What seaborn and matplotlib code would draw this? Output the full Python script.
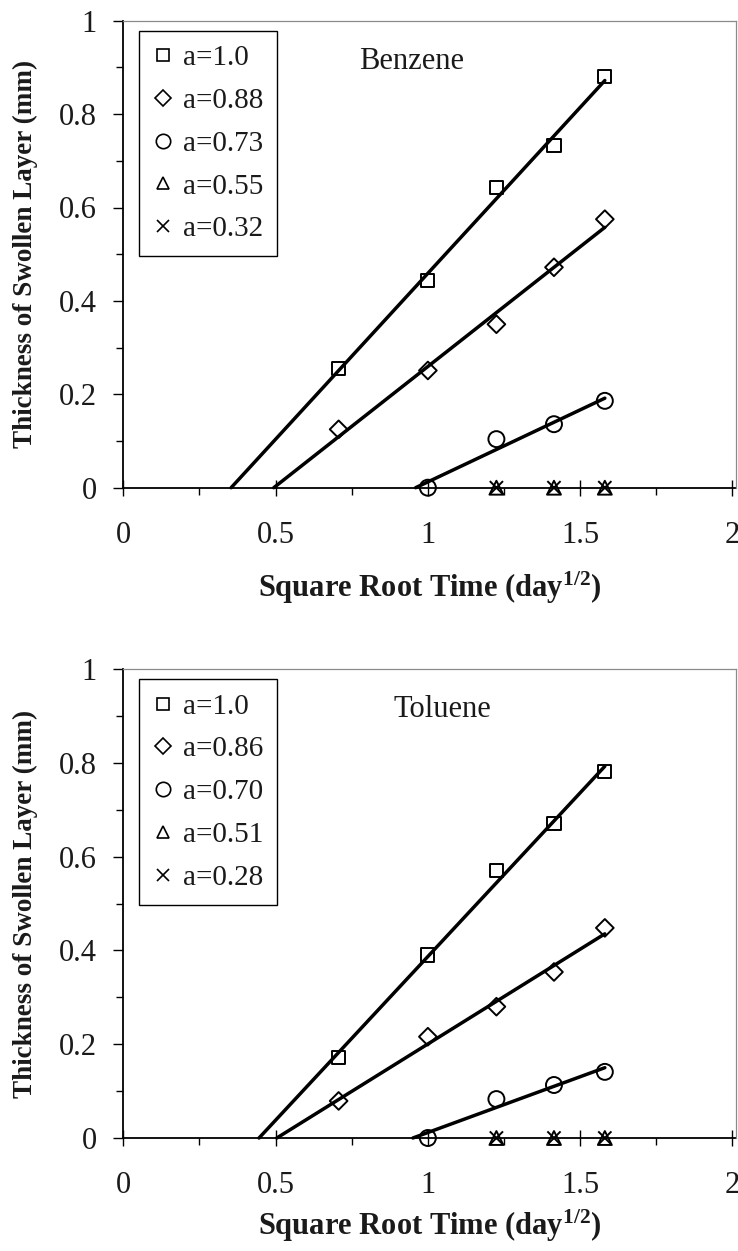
import numpy as np
import pandas as pd
import seaborn as sns
import matplotlib
matplotlib.use("Agg")
import matplotlib.pyplot as plt
from matplotlib.lines import Line2D
from matplotlib.ticker import MultipleLocator

# ---------------- data ----------------
sqrt_time = [0.707, 1.0, 1.225, 1.414, 1.581]

benzene_labels = ["a=1.0", "a=0.88", "a=0.73", "a=0.55", "a=0.32"]
benzene_a1 = [0.256, 0.443, 0.642, 0.733, 0.880]
benzene_a2 = [0.125, 0.251, 0.350, 0.472, 0.575]
benzene_a3 = [np.nan, 0.0, 0.104, 0.136, 0.186]
benzene_a4 = [np.nan, np.nan, 0.0, 0.0, 0.0]
benzene_a5 = [np.nan, np.nan, 0.0, 0.0, 0.0]

toluene_labels = ["a=1.0", "a=0.86", "a=0.70", "a=0.51", "a=0.28"]
toluene_a1 = [0.171, 0.390, 0.570, 0.670, 0.781]
toluene_a2 = [0.079, 0.216, 0.280, 0.354, 0.448]
toluene_a3 = [np.nan, 0.0, 0.083, 0.113, 0.141]
toluene_a4 = [np.nan, np.nan, 0.0, 0.0, 0.0]
toluene_a5 = [np.nan, np.nan, 0.0, 0.0, 0.0]

x_ticks = [0, 0.5, 1, 1.5, 2]
y_ticks = [0, 0.2, 0.4, 0.6, 0.8, 1.0]
x_ticklabels = ["0", "0.5", "1", "1.5", "2"]
y_ticklabels = ["0", "0.2", "0.4", "0.6", "0.8", "1"]

xlabel = r"Square Root Time (day$^{\mathbf{1/2}}$)"
ylabel = "Thickness of Swollen Layer (mm)"

# ---------------- style ----------------
sns.set_theme(style="white")
plt.rcParams["font.family"] = ["Liberation Serif", "DejaVu Serif"]
plt.rcParams["mathtext.fontset"] = "custom"
plt.rcParams["mathtext.rm"] = "Liberation Serif"
plt.rcParams["mathtext.bf"] = "Liberation Serif:bold"
plt.rcParams["mathtext.it"] = "Liberation Serif:italic"

markers = ["s", "D", "o", "^", "x"]
msizes = [9.5, 9.0, 11.5, 10.0, 9.5]
fit_series = [True, True, True, False, False]
text_col = "#1a1a1a"

fig = plt.figure(figsize=(7.38, 12.51), dpi=100)
W, H = 738.0, 1251.0


def make_panel(rect, series, labels, name, name_xy, xlab_y):
    ax = fig.add_axes(rect)
    for ys, lab, m, ms, fit in zip(series, labels, markers, msizes, fit_series):
        df = pd.DataFrame({"x": sqrt_time, "y": ys}).dropna()
        if fit:
            k, b = np.polyfit(df["x"], df["y"], 1)
            x0 = -b / k
            x1 = df["x"].max()
            line_df = pd.DataFrame({"x": [x0, x1], "y": [0.0, k * x1 + b]})
            sns.lineplot(data=line_df, x="x", y="y", ax=ax, color="black",
                         linewidth=2.5, zorder=3, clip_on=False)
        sns.scatterplot(data=df, x="x", y="y", ax=ax, marker=m,
                        s=ms ** 2, color="black", linewidth=1.4,
                        zorder=4, clip_on=False)
        coll = ax.collections[-1]
        coll.set_facecolor("none")
        coll.set_edgecolor("black")
        coll.set_linewidth(1.4)
        coll.set_clip_on(False)

    ax.set_xlim(0, 2.01)
    ax.set_ylim(0, 1)
    ax.set_xticks(x_ticks)
    ax.set_xticklabels(x_ticklabels)
    ax.set_yticks(y_ticks)
    ax.set_yticklabels(y_ticklabels)
    ax.xaxis.set_minor_locator(MultipleLocator(0.25))
    ax.yaxis.set_minor_locator(MultipleLocator(0.1))
    ax.tick_params(axis="x", which="major", direction="inout", length=12,
                   width=1.0, color="black", labelsize=22, pad=18,
                   labelcolor=text_col, bottom=True)
    ax.tick_params(axis="x", which="minor", direction="out", length=5,
                   width=1.0, color="black", bottom=True)
    ax.tick_params(axis="y", which="major", direction="out", length=7.2,
                   width=1.0, color="black", labelsize=22, pad=12,
                   labelcolor=text_col, left=True)
    ax.tick_params(axis="y", which="minor", direction="out", length=5,
                   width=1.0, color="black", left=True)

    for s in ["left", "bottom"]:
        ax.spines[s].set_color("black")
        ax.spines[s].set_linewidth(1.3)
    for s in ["top", "right"]:
        ax.spines[s].set_color("#8a8a8a")
        ax.spines[s].set_linewidth(0.9)
    ax.spines["bottom"].set_zorder(2)

    ax.set_xlabel(xlabel, fontsize=22, fontweight="bold", color=text_col)
    ax.set_ylabel(ylabel, fontsize=19.5, fontweight="bold", color=text_col)
    ax.xaxis.set_label_coords(0.5, xlab_y)
    ax.xaxis.label.set_va("top")
    ax.yaxis.set_label_coords(-0.139, 0.5)

    ax.text(name_xy[0], name_xy[1], name, fontsize=22, color=text_col,
            ha="center", va="center")

    handles = [Line2D([], [], marker=m, linestyle="", markerfacecolor="none",
                      markeredgecolor="black", markeredgewidth=1.2,
                      markersize=ms * 0.9)
               for m, ms in zip(markers, msizes)]
    leg = ax.legend(handles, labels, loc="upper left",
                    bbox_to_anchor=(0.026, 0.978), borderaxespad=0,
                    fontsize=21, frameon=True, fancybox=False,
                    handlelength=0.68, handletextpad=0.34, labelspacing=0.56,
                    borderpad=0.48, labelcolor=text_col)
    leg.get_frame().set_edgecolor("black")
    leg.get_frame().set_linewidth(1.0)
    leg.get_frame().set_facecolor("white")
    leg.get_frame().set_alpha(1)
    return ax


left = 123.3 / W
width = (735.5 - 123.3) / W

ax1 = make_panel([left, (H - 487.7) / H, width, 467.0 / H],
                 [benzene_a1, benzene_a2, benzene_a3, benzene_a4, benzene_a5],
                 benzene_labels, "Benzene", (0.945, 0.912), -0.176)
ax2 = make_panel([left, (H - 1138.0) / H, width, 469.0 / H],
                 [toluene_a1, toluene_a2, toluene_a3, toluene_a4, toluene_a5],
                 toluene_labels, "Toluene", (1.048, 0.913), -0.149)

fig.savefig("out.png", dpi=100)
